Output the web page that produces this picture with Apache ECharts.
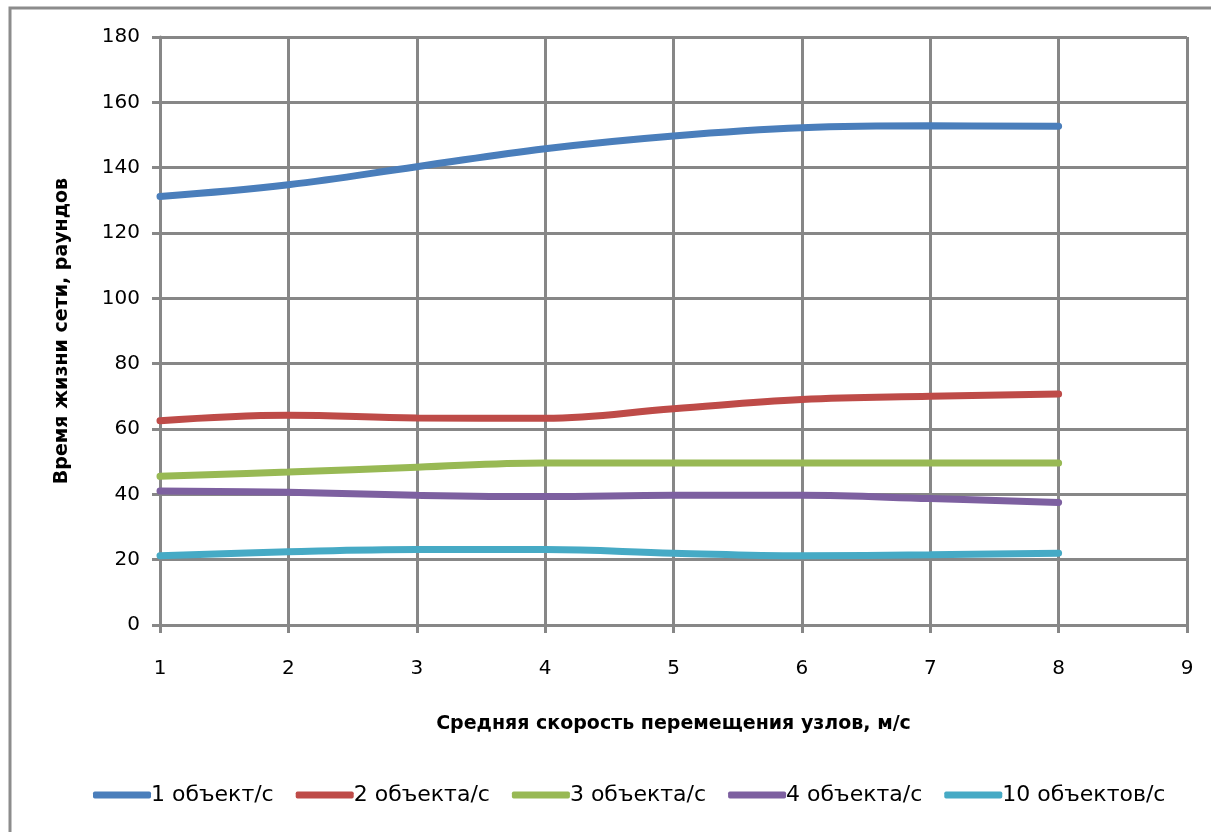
<!DOCTYPE html>
<html>
<head>
    <meta charset="utf-8">
    <script src="https://cdn.jsdelivr.net/npm/echarts@6/dist/echarts.min.js"></script>
    <style>
        body, html {
            margin: 0;
            height: 100%;
            background: #fff;
        }
        #main {
            width: 1211px;
            height: 832px;
        }
    </style>
</head>
<body>
<div id="main"></div>

<script>
    var speeds = [1, 2, 3, 4, 5, 6, 7, 8];
    var names = ['1 объект/с', '2 объекта/с', '3 объекта/с', '4 объекта/с', '10 объектов/с'];
    var colors = ['#4a7ebb', '#be4b48', '#98b954', '#7d60a0', '#46aac5'];
    var obj1 = [131.2, 134.8, 140.3, 145.8, 149.7, 152.2, 152.8, 152.7];
    var obj2 = [62.5, 64.2, 63.4, 63.3, 66.2, 69.0, 70.0, 70.7];
    var obj3 = [45.5, 46.8, 48.3, 49.6, 49.6, 49.6, 49.6, 49.6];
    var obj4 = [41.0, 40.6, 39.7, 39.3, 39.7, 39.7, 38.7, 37.5];
    var obj10 = [21.2, 22.4, 23.1, 23.1, 22.0, 21.2, 21.5, 22.0];
    var values = [obj1, obj2, obj3, obj4, obj10];

    var font = '"DejaVu Sans", sans-serif';
    var gridColor = '#878787';

    var series = values.map(function (v, i) {
        return {
            name: names[i],
            type: 'line',
            smooth: 0.4,
            symbol: 'none',
            data: speeds.map(function (s, j) { return [s, v[j]]; }),
            lineStyle: {width: 7, color: colors[i], cap: 'round'},
            itemStyle: {color: colors[i]}
        };
    });

    var myChart = echarts.init(document.getElementById('main'));
    var option = {
        animation: false,
        textStyle: {fontFamily: font},
        graphic: [{
            type: 'rect',
            shape: {x: 10, y: 8, width: 1230, height: 860},
            style: {fill: 'none', stroke: '#8c8c8c', lineWidth: 3}
        }],
        grid: {left: 160, right: 24, top: 37, bottom: 207},
        legend: {
            bottom: 21,
            left: 88,
            icon: 'roundRect',
            itemWidth: 58,
            itemHeight: 7,
            itemGap: 22,
            textStyle: {fontSize: 22, color: '#000', fontFamily: font, padding: [0, 0, 0, -5]},
            data: names
        },
        xAxis: {
            type: 'value',
            min: 1,
            max: 9,
            interval: 1,
            name: 'Средняя скорость перемещения узлов, м/с',
            nameLocation: 'middle',
            nameGap: 90,
            nameTextStyle: {fontSize: 19, fontWeight: 'bold', color: '#000', fontFamily: font},
            axisLine: {lineStyle: {color: gridColor, width: 3}},
            axisTick: {show: true, length: 8, lineStyle: {color: gridColor, width: 3}},
            axisLabel: {fontSize: 20, color: '#000', margin: 34},
            splitLine: {show: true, lineStyle: {color: gridColor, width: 3}}
        },
        yAxis: {
            type: 'value',
            min: 0,
            max: 180,
            interval: 20,
            name: 'Время жизни сети, раундов',
            nameLocation: 'middle',
            nameGap: 88,
            nameTextStyle: {fontSize: 19, fontWeight: 'bold', color: '#000', fontFamily: font},
            axisLine: {show: true, lineStyle: {color: gridColor, width: 3}},
            axisTick: {show: true, length: 8, lineStyle: {color: gridColor, width: 3}},
            axisLabel: {fontSize: 20, color: '#000', margin: 20},
            splitLine: {show: true, lineStyle: {color: gridColor, width: 3}}
        },
        series: series
    };
    myChart.setOption(option);
</script>
</body>
</html>
